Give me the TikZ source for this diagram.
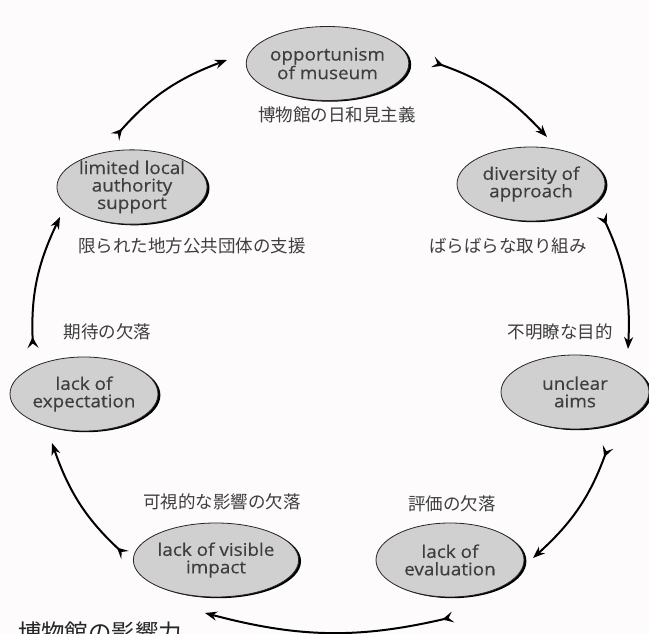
\documentclass[tikz,border=0pt]{standalone}
\usepackage{fontspec}
\setmainfont{Open Sans}[FakeStretch=1.08,FakeBold=0.35]
\newfontfamily\jpfont{Noto Sans CJK JP}
\usetikzlibrary{shapes.geometric,arrows.meta,shadows}
\definecolor{ovalfill}{RGB}{208,208,208}
\definecolor{inkgray}{RGB}{62,62,62}
\definecolor{paper}{RGB}{253,251,251}

\begin{document}
\begin{tikzpicture}[x=1pt,y=1pt,
    stage/.style={ellipse,draw=black!85,line width=0.8pt,fill=ovalfill,
      minimum width=148pt,minimum height=74pt,inner sep=0pt,align=center,
      text=inkgray,font=\fontsize{17.5}{17.5}\selectfont,
      drop shadow={shadow xshift=2.4pt,shadow yshift=-1.2pt,opacity=1,fill=black}},
    jplabel/.style={text=inkgray,inner sep=0pt,font=\jpfont\fontsize{17.5}{20}\selectfont},
    loopedge/.style={line width=2pt,
      arrows={Stealth[reversed,length=11pt,width=11pt,inset=4.5pt]-Stealth[length=12pt,width=9pt]}}]

    % fix the page
    \fill[paper] (0,0) rectangle (649,634);
    \useasboundingbox (0,0) rectangle (649,634);

    % the stages of the cycle
    \node[stage] (opp) at (327.5,570.5) {opportunism\\of museum};
    \node[stage] (div) at (531,450)     {diversity of\\approach};
    \node[stage] (unc) at (575,242)     {unclear\\aims};
    \node[stage] (eva) at (450,74)      {lack of\\evaluation};
    \node[stage] (imp) at (216,74)      {lack of visible\\impact};
    \node[stage] (exp) at (84,240)      {lack of\\expectation};
    \node[stage] (lim) at (132,447)     {limited local\\authority\\support};

    % the japanese labels
    \node[jplabel] (opplbl) at (337,519)   {博物館の日和見主義};
    \node[jplabel] (divlbl) at (508,388)   {ばらばらな取り組み};
    \node[jplabel] (limlbl) at (192,388)   {限られた地方公共団体の支援};
    \node[jplabel] (explbl) at (107.5,302) {期待の欠落};
    \node[jplabel] (unclbl) at (560,302)   {不明瞭な目的};
    \node[jplabel] (implbl) at (222,132)   {可視的な影響の欠落};
    \node[jplabel] (evalbl) at (452,130)   {評価の欠落};

    % the ends of the arrows, off each stage
    \foreach \p/\n/\dx/\dy in {
      s1/lim/-17/50,   e1/opp/-100.5/3.5,
      s2/opp/105.5/1.5, e2/div/16/47,
      s3/div/71/-31,   e3/unc/53/43,
      s4/unc/33/-55,   e4/eva/83/2,
      s5/eva/3/-57,    e5/imp/-11/-53,
      s6/imp/-91/5,    e6/exp/-32/-49,
      s7/exp/-51/46,   e7/lim/-72/-30
    }
    \coordinate (\p) at ([shift={(\dx,\dy)}]\n.center);

    % the arrows round the cycle
    \foreach \i in {1,...,7}
    \draw[loopedge] (s\i) to[bend left=14] (e\i);

    % caption, cut at the lower edge
    \node[anchor=base west,inner sep=0pt,text=black!85,
          font=\jpfont\fontsize{23.4}{26}\selectfont] (title) at (18,-8) {博物館の影響力};
  \end{tikzpicture}
\end{document}
